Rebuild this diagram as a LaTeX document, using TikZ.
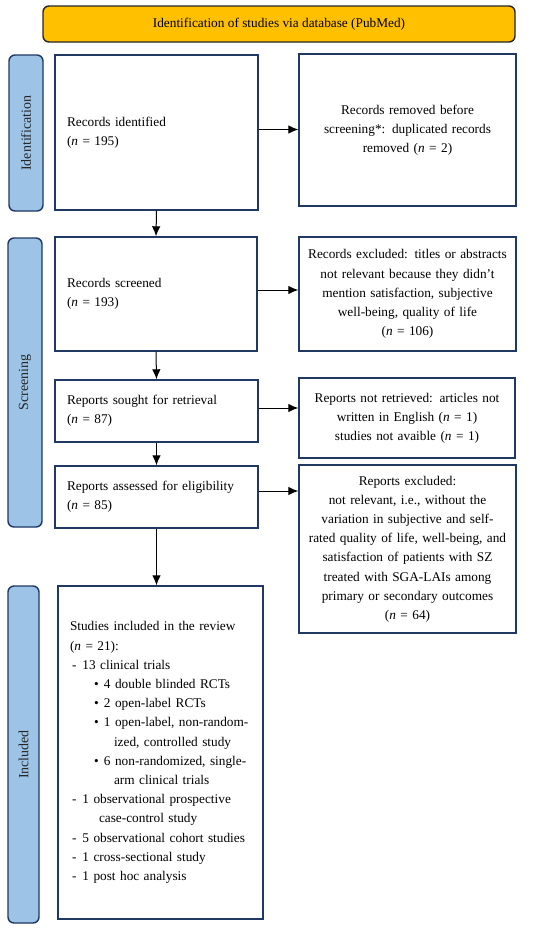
\documentclass[tikz,border=0pt]{standalone}
\usepackage{fontspec}
\setmainfont{Liberation Serif}
\usetikzlibrary{arrows.meta}
\definecolor{navy}{HTML}{1F3864}
\definecolor{barblue}{HTML}{9DC3E6}
\definecolor{hdr}{HTML}{FFC000}
\definecolor{lbl}{HTML}{262626}
\newcommand\myDash{\hspace*{2pt}-\hspace*{6pt}}
\newcommand\myBul{\hspace*{24pt}\makebox[10pt][l]{\textbullet}}
\newcommand\myCont{\hspace*{44pt}}
\begin{document}
\begin{tikzpicture}[x=1pt,y=-1pt,
  txt/.style={font=\fontsize{13.3}{19.2}\selectfont},
  box/.style={txt,draw=navy,line width=1.4pt,fill=white,inner ysep=0pt,rectangle},
  lbox/.style={box,align=left,inner xsep=12pt},
  cbox/.style={box,align=center,inner xsep=4pt},
  bar/.style={draw=navy,line width=1.4pt,fill=barblue,rounded corners=6pt,inner sep=0pt},
  barlbl/.style={font=\fontsize{14}{16}\selectfont,text=lbl,rotate=90},
  arr/.style={-{Latex[length=10pt,width=8.5pt]},line width=1pt}]
\useasboundingbox (0,0) rectangle (550,929);
\fill[white] (0,0) rectangle (550,929);

% header
\node[txt,draw=black!85,line width=1.4pt,fill=hdr,rounded corners=6pt,
  minimum width=472pt,minimum height=36pt,inner sep=0pt] (hd) at (279,24)
  {Identification of studies via database (PubMed)};

% side bars
\node[bar,minimum width=34pt,minimum height=156pt] (idb) at (26,133) {};
\node[barlbl] (idl) at (idb.center) {Identification};
\node[bar,minimum width=34pt,minimum height=289pt] (scb) at (25,382.5) {};
\node[barlbl] (scl) at (scb.center) {Screening};
\node[bar,minimum width=31pt,minimum height=337pt] (inb) at (23.5,754.5) {};
\node[barlbl] (inl) at (inb.center) {Included};

% left column
\node[lbox,text width=179pt,minimum height=155pt] (idn) at (156.5,132.5)
  {Records identified\\(\textit{n} = 195)};
\node[lbox,text width=178pt,minimum height=114pt] (scr) at (156,294)
  {Records screened\\(\textit{n} = 193)};
\node[lbox,text width=179pt,minimum height=62pt] (sou) at (156.5,411)
  {Reports sought for retrieval\\(\textit{n} = 87)};
\node[lbox,text width=179pt,minimum height=62pt] (ass) at (156.5,497)
  {Reports assessed for eligibility\\(\textit{n} = 85)};
\node[lbox,text width=181pt,minimum height=333pt] (inc) at (160.5,752.5)
  {Studies included in the review\\
   (\textit{n} = 21):\\
   \myDash 13 clinical trials\\
   \myBul 4 double blinded RCTs\\
   \myBul 2 open-label RCTs\\
   \myBul 1 open-label, non-random-\\
   \myCont ized, controlled study\\
   \myBul 6 non-randomized, single-\\
   \myCont arm clinical trials\\
   \myDash 1 observational prospective\\
   \hspace*{29pt}case-control study\\
   \myDash 5 observational cohort studies\\
   \myDash 1 cross-sectional study\\
   \myDash 1 post hoc analysis};

% right column
\node[cbox,text width=209pt,minimum height=152pt] (rem) at (407.5,130)
  {Records removed before\\screening*: duplicated records\\removed (\textit{n} = 2)};
\node[cbox,text width=209pt,minimum height=114pt] (exc) at (407.5,294)
  {Records excluded: titles or abstracts\\not relevant because they didn't\\mention satisfaction, subjective\\well-being, quality of life\\(\textit{n} = 106)};
\node[cbox,text width=208pt,minimum height=80pt] (nre) at (407,418)
  {Reports not retrieved: articles not\\written in English (\textit{n} = 1)\\studies not avaible (\textit{n} = 1)};
\node[cbox,text width=209pt,minimum height=168pt] (rex) at (407.5,549)
  {Reports excluded:\\not relevant, i.e., without the\\variation in subjective and self-\\rated quality of life, well-being, and\\satisfaction of patients with SZ\\treated with SGA-LAIs among\\primary or secondary outcomes\\(\textit{n} = 64)};

% vertical arrows
\draw[arr] (idn.south) -- (scr.north);
\draw[arr] (scr.south) -- (sou.north);
\draw[arr] (sou.south) -- (ass.north);
\draw[arr] (ass.south) -- (ass.south |- inc.north);

% horizontal arrows
\coordinate (a1) at ([yshift=3pt]idn.east);
\coordinate (a2) at ([yshift=4pt]scr.east);
\coordinate (a3) at ([yshift=3pt]sou.east);
\coordinate (a4) at ([yshift=6pt]ass.east);
\draw[arr] (a1) -- (a1 -| rem.west);
\draw[arr] (a2) -- (a2 -| exc.west);
\draw[arr] (a3) -- (a3 -| nre.west);
\draw[arr] (a4) -- (a4 -| rex.west);
\end{tikzpicture}
\end{document}
